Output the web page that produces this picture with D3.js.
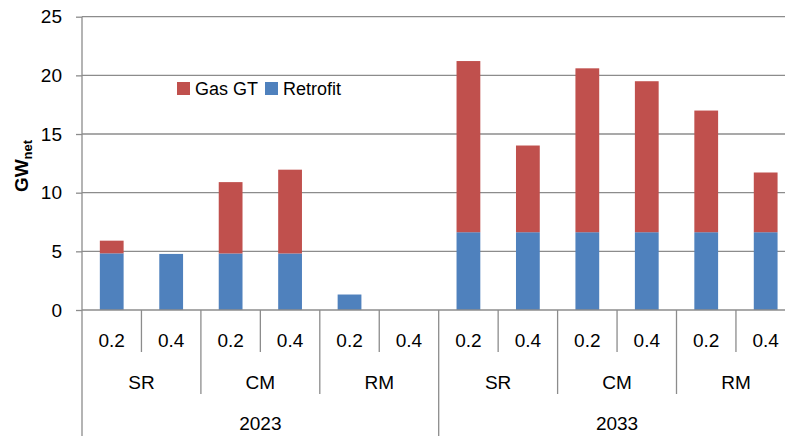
<!DOCTYPE html>
<html>
<head>
<meta charset="utf-8">
<script src="https://cdn.jsdelivr.net/npm/d3@7"></script>
<style>
  html, body { margin: 0; padding: 0; background: #fff; overflow: hidden; }
  svg { display: block; }
  text { font-family: "Liberation Sans", Arial, sans-serif; fill: #000; }
</style>
</head>
<body>
<svg id="chart" width="785" height="436"></svg>
<script>
// ---- Data ----
const years = ["2023", "2033"];
const methods = ["SR", "CM", "RM"];
const shares = ["0.2", "0.4"];
const retrofit = [4.83, 4.78, 4.82, 4.82, 1.32, 0, 6.63, 6.63, 6.63, 6.63, 6.63, 6.63];
const gasGT    = [1.08, 0, 6.08, 7.14, 0, 0, 14.59, 7.39, 13.97, 12.87, 10.37, 5.09];
const yTicks = [0, 5, 10, 15, 20, 25];
const seriesNames = ["Gas GT", "Retrofit"];
const seriesColors = ["#C0504D", "#4F81BD"];

// build category list
const cats = [];
years.forEach(y => methods.forEach(m => shares.forEach(s => cats.push({year: y, method: m, share: s}))));
cats.forEach((c, i) => { c.i = i; c.retrofit = retrofit[i]; c.gas = gasGT[i]; });

const svg = d3.select("#chart");
const pL = 82, pR = 795.4, pT = 16.7, pB = 310;
const x = d3.scaleBand().domain(cats.map(c => c.i)).range([pL, pR]).paddingInner(0.6).paddingOuter(0.3);
const y = d3.scaleLinear().domain([0, 25]).range([pB, pT]);
const step = x.step();
const gridColor = "#8c8c8c";

// gridlines
svg.append("g").selectAll("line").data(yTicks.filter(t => t > 0)).join("line")
  .attr("x1", pL).attr("x2", 785)
  .attr("y1", d => y(d)).attr("y2", d => y(d))
  .attr("stroke", gridColor).attr("stroke-width", 1.3);

// bars
const stack = d3.stack().keys(["retrofit", "gas"])(cats);
const colorByKey = {retrofit: seriesColors[1], gas: seriesColors[0]};
stack.forEach(layer => {
  svg.append("g").selectAll("rect").data(layer.filter(d => d[1] - d[0] > 0)).join("rect")
    .attr("x", d => x(d.data.i))
    .attr("width", x.bandwidth())
    .attr("y", d => y(d[1]))
    .attr("height", d => y(d[0]) - y(d[1]))
    .attr("fill", colorByKey[layer.key]);
});

// y axis
const yAxis = d3.axisLeft(y).tickValues(yTicks).tickSize(6).tickSizeOuter(0).tickPadding(14);
const ya = svg.append("g").attr("transform", `translate(${pL},0)`).call(yAxis);
ya.select(".domain").remove();
ya.selectAll(".tick line").attr("stroke", gridColor).attr("stroke-width", 1.3);
ya.selectAll(".tick text").style("font-size", "19px").style("font-family", "Liberation Sans, Arial, sans-serif").attr("fill", "#000");

// vertical axis line extending to bottom
svg.append("line").attr("x1", pL).attr("x2", pL).attr("y1", pT).attr("y2", 436)
  .attr("stroke", gridColor).attr("stroke-width", 1.3);

// x axis line
svg.append("line").attr("x1", pL).attr("x2", 785).attr("y1", pB).attr("y2", pB)
  .attr("stroke", gridColor).attr("stroke-width", 1.3);

// category boundaries
const bx = i => x(i) - step * x.paddingInner() / 2;
for (let i = 1; i < cats.length; i++) {
  let len;
  if (i % 6 === 0) len = 436;
  else if (i % 2 === 0) len = 394;
  else len = 352;
  svg.append("line").attr("x1", bx(i)).attr("x2", bx(i)).attr("y1", pB).attr("y2", len)
    .attr("stroke", gridColor).attr("stroke-width", 1.3);
}

// labels
const xl = svg.append("g").style("font-size", "19px").attr("text-anchor", "middle");
cats.forEach(c => {
  xl.append("text").attr("x", x(c.i) + x.bandwidth() / 2).attr("y", 347).text(c.share);
});
for (let g = 0; g < years.length * methods.length; g++) {
  const cx = bx(g * 2) + step;
  xl.append("text").attr("x", cx).attr("y", 389).text(methods[g % methods.length]);
}
years.forEach((yr, k) => {
  const cx = bx(k * 6) + step * 3;
  xl.append("text").attr("x", cx).attr("y", 430).text(yr);
});

// y title
const yt = svg.append("text").attr("transform", "translate(28,166) rotate(-90)")
  .attr("text-anchor", "middle").style("font-size", "19px").style("font-weight", "bold");
yt.append("tspan").text("GW");
yt.append("tspan").attr("dy", 4).style("font-size", "13px").text("net");

// legend
const legend = svg.append("g").style("font-size", "18px");
const legX = [177, 265];
seriesNames.forEach((n, k) => {
  legend.append("rect").attr("x", legX[k]).attr("y", 82).attr("width", 13).attr("height", 13).attr("fill", seriesColors[k]);
  legend.append("text").attr("x", legX[k] + 18).attr("y", 95).text(n);
});
</script>
</body>
</html>
